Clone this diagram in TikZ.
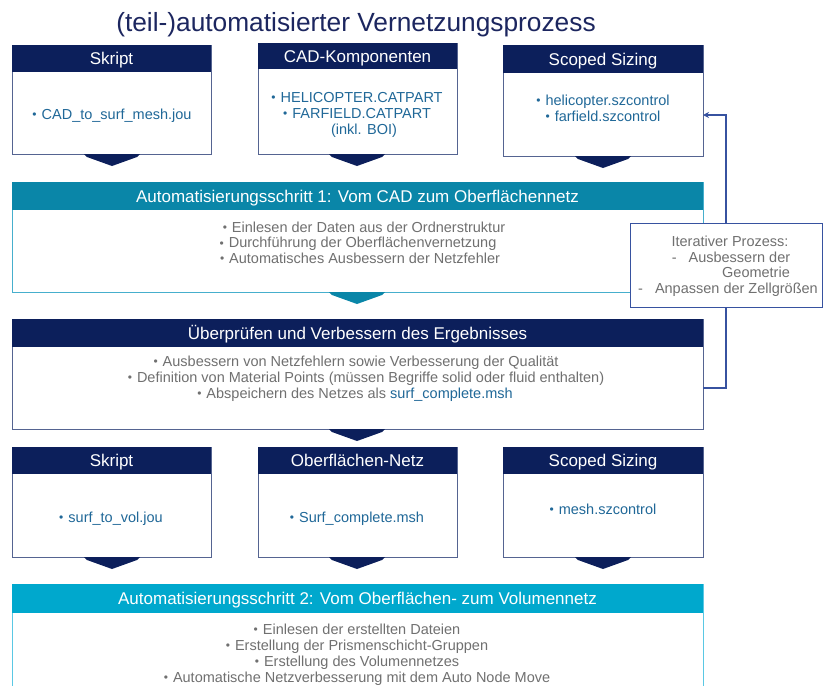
\documentclass[tikz,border=0pt]{standalone}
\usepackage{fontspec}
\setmainfont{Liberation Sans}
\usetikzlibrary{arrows.meta,calc}
\definecolor{navy}{RGB}{12,31,91}
\definecolor{navyborder}{RGB}{85,100,145}
\definecolor{teal1}{RGB}{10,134,168}
\definecolor{teal1border}{RGB}{70,175,205}
\definecolor{cyan2}{RGB}{0,168,205}
\definecolor{cyan2border}{RGB}{90,200,228}
\definecolor{fblue}{RGB}{32,104,152}
\definecolor{gtext}{RGB}{112,112,112}
\definecolor{titlecol}{RGB}{28,38,95}
\definecolor{fbcol}{RGB}{55,82,160}
\newcommand\mybul{{\fontsize{12}{12}\selectfont\raisebox{0.3pt}{•}}\hspace{5pt}}
\tikzset{
  bodybox/.style={fill=white, line width=1pt, anchor=north west, inner sep=0pt, outer sep=0pt},
  navybody/.style={bodybox, draw=navyborder},
  hdr/.style={anchor=north west, inner sep=0pt, outer sep=0pt, text=white, text height=12.2pt, text depth=0pt, font=\fontsize{17}{20}\selectfont},
  txt/.style={inner sep=0pt, align=center, text height=10.4pt, text depth=0pt, font=\fontsize{14.5}{17}\selectfont},
  ftxt/.style={txt, text=fblue},
  gtxt/.style={txt, text=gtext},
  chev/.pic={\fill (-28,0) -- (28,0) -- (25,3) -- (0,12) -- (-25,3) -- cycle;},
  fbline/.style={draw=fbcol, line width=1.4pt, -{Stealth[length=6pt,width=6pt]}}
}
\begin{document}
\begin{tikzpicture}[x=1pt,y=-1pt]
\useasboundingbox (0,0) rectangle (823,686);
\clip (0,0) rectangle (823,686);

% title
\node[font=\fontsize{26.3}{30}\selectfont, text=titlecol, inner sep=0pt, text height=19pt, text depth=0pt] (title) at (356,22) {(teil-)automatisierter Vernetzungsprozess};

% ---------- row 1 ----------
\node[navybody, minimum width=199pt, minimum height=109pt] (sk1) at (12,45) {};
\node[hdr, fill=navy, minimum width=199pt, minimum height=27pt] (sk1h) at (12,45) {Skript};
\node[ftxt] (sk1t) at (112,114) {\mybul CAD\_to\_surf\_mesh.jou};

\node[navybody, minimum width=199pt, minimum height=111pt] (cad) at (258,43) {};
\node[hdr, fill=navy, minimum width=199pt, minimum height=26pt] (cadh) at (258,43) {CAD-Komponenten};
\node[ftxt] (cadt1) at (357,97) {\mybul HELICOPTER.CATPART};
\node[ftxt] (cadt2) at (357,113) {\mybul FARFIELD.CATPART};
\node[ftxt] (cadt3) at (364,129) {(inkl. BOI)};

\node[navybody, minimum width=200pt, minimum height=111pt] (sz1) at (503,45) {};
\node[hdr, fill=navy, minimum width=200pt, minimum height=28pt] (sz1h) at (503,45) {Scoped Sizing};
\node[ftxt] (sz1t1) at (603,100) {\mybul helicopter.szcontrol};
\node[ftxt] (sz1t2) at (603,116) {\mybul farfield.szcontrol};

\pic[navy] at (112,154) {chev};
\pic[navy] at (357,154) {chev};
\pic[navy] at (603,156) {chev};

% ---------- step 1 ----------
\node[bodybox, draw=teal1border, minimum width=691pt, minimum height=110pt] (b1) at (12,182) {};
\node[hdr, fill=teal1, minimum width=691pt, minimum height=28pt] (b1h) at (12,182) {Automatisierungsschritt 1: Vom CAD zum Oberflächennetz};
\node[gtxt] (b1t1) at (364,227) {\mybul Einlesen der Daten aus der Ordnerstruktur};
\node[gtxt] (b1t2) at (358,242.5) {\mybul Durchführung der Oberflächenvernetzung};
\node[gtxt] (b1t3) at (360,258) {\mybul Automatisches Ausbessern der Netzfehler};
\pic[teal1] at (357,292) {chev};

% ---------- check step ----------
\node[navybody, minimum width=691pt, minimum height=110pt] (b2) at (12,319) {};
\node[hdr, fill=navy, minimum width=691pt, minimum height=28pt] (b2h) at (12,319) {Überprüfen und Verbessern des Ergebnisses};
\node[gtxt] (b2t1) at (356,361) {\mybul Ausbessern von Netzfehlern sowie Verbesserung der Qualität};
\node[gtxt] (b2t2) at (366,377) {\mybul Definition von Material Points (müssen Begriffe solid oder fluid enthalten)};
\node[gtxt] (b2t3) at (355,393) {\mybul Abspeichern des Netzes als \textcolor{fblue}{surf\_complete.msh}};
\pic[navy] at (357,429) {chev};

% feedback loop
\coordinate (fbA) at (726,388);
\coordinate (fbB) at (726,115);
\draw[fbline] (b2.east |- fbA) -- (fbA) -- (fbB) -- (sz1.east |- fbB);
\node[draw=fbcol, fill=white, line width=1.2pt, anchor=north west, inner sep=0pt, minimum width=192pt, minimum height=84pt] (it) at (629.5,223) {};
\node[gtxt] (it1) at (730,241) {Iterativer Prozess:};
\node[gtxt] (it2) at (731,257) {-\hspace{12pt}Ausbessern der};
\node[gtxt] (it3) at (756,272) {Geometrie};
\node[gtxt] (it4) at (728,288) {-\hspace{12pt}Anpassen der Zellgrößen};

% ---------- row 3 ----------
\node[navybody, minimum width=199pt, minimum height=110pt] (sk2) at (12,447) {};
\node[hdr, fill=navy, minimum width=199pt, minimum height=27pt] (sk2h) at (12,447) {Skript};
\node[ftxt] (sk2t) at (111,517) {\mybul surf\_to\_vol.jou};

\node[navybody, minimum width=199pt, minimum height=110pt] (on) at (258,447) {};
\node[hdr, fill=navy, minimum width=199pt, minimum height=27pt] (onh) at (258,447) {Oberflächen-Netz};
\node[ftxt] (ont) at (357,517) {\mybul Surf\_complete.msh};

\node[navybody, minimum width=200pt, minimum height=110pt] (sz2) at (503,447) {};
\node[hdr, fill=navy, minimum width=200pt, minimum height=27pt] (sz2h) at (503,447) {Scoped Sizing};
\node[ftxt] (sz2t) at (603,509) {\mybul mesh.szcontrol};

\pic[navy] at (112,557) {chev};
\pic[navy] at (357,557) {chev};
\pic[navy] at (603,557) {chev};

% ---------- step 2 ----------
\node[bodybox, draw=cyan2border, minimum width=691pt, minimum height=130pt] (b4) at (12,584) {};
\node[hdr, fill=cyan2, minimum width=691pt, minimum height=29pt] (b4h) at (12,584) {Automatisierungsschritt 2: Vom Oberflächen- zum Volumennetz};
\node[gtxt] (b4t1) at (357,629) {\mybul Einlesen der erstellten Dateien};
\node[gtxt] (b4t2) at (357,645) {\mybul Erstellung der Prismenschicht-Gruppen};
\node[gtxt] (b4t3) at (357,661) {\mybul Erstellung des Volumennetzes};
\node[gtxt] (b4t4) at (357,677) {\mybul Automatische Netzverbesserung mit dem Auto Node Move};
\end{tikzpicture}
\end{document}
